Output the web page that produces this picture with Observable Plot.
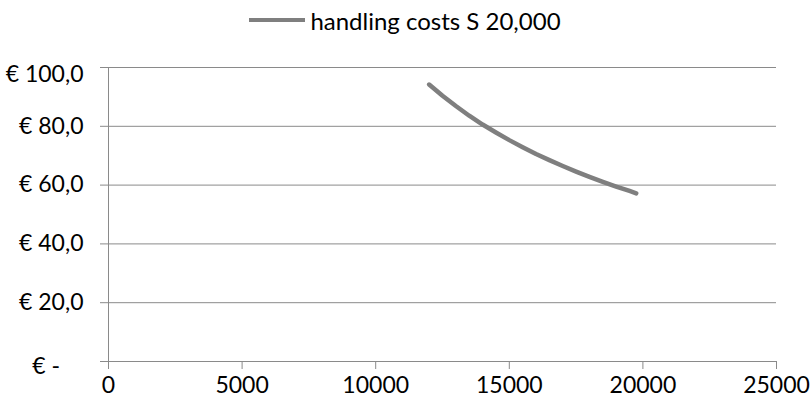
<!DOCTYPE html>
<html>
<head>
<meta charset="utf-8">
<script src="https://cdn.jsdelivr.net/npm/d3@7"></script>
<script src="https://cdn.jsdelivr.net/npm/@observablehq/plot@0.6"></script>
<style>
  html, body { margin: 0; padding: 0; background: #fff; }
  body { width: 810px; height: 407px; overflow: hidden; font-family: Lato, "Open Sans", sans-serif; }
  #legend { height: 40px; display: flex; align-items: center; justify-content: center; font-size: 24px; color: #000; }
  #legend .sw { width: 56px; height: 4px; background: #7f7f7f; margin-right: 5px; }
</style>
</head>
<body>
<div id="legend"><span class="sw"></span><span id="legtext"></span></div>
<div id="chart"></div>
<script>
const seriesName = "handling costs S 20,000";
const quantity = [12000, 12500, 13000, 13500, 14000, 14500, 15000, 15500, 16000, 16500, 17000, 17500, 18000, 18500, 19000, 19500, 19750];
const unitCost = [94.2, 90.4, 86.9, 83.6, 80.6, 77.9, 75.3, 72.9, 70.6, 68.5, 66.5, 64.6, 62.8, 61.1, 59.5, 58.0, 57.2];
const xTicks = [0, 5000, 10000, 15000, 20000, 25000];
const yTicks = [0, 20, 40, 60, 80, 100];
const yTickLabels = ["€ -\u00A0\u00A0\u00A0\u00A0", "€ 20,0", "€ 40,0", "€ 60,0", "€ 80,0", "€ 100,0"];

document.getElementById("legtext").textContent = seriesName;
const data = quantity.map((q, i) => ({q, c: unitCost[i]}));
const gray = "#8a8a8a";
const yLabel = d => yTickLabels[yTicks.indexOf(d)];
const midTicks = yTicks.filter(d => d > 0 && d < 100);
const labelOpts = {tickSize: 0, tickPadding: 25, fill: "#000", fontSize: 23, tickFormat: yLabel, label: null};

const chart = Plot.plot({
  width: 810,
  height: 367,
  marginTop: 27,
  marginBottom: 46,
  marginLeft: 108,
  marginRight: 34,
  style: {fontFamily: "Lato, 'Open Sans', sans-serif", fontSize: "23px", color: "#000", background: "#fff"},
  x: {domain: [0, 25000]},
  y: {domain: [0, 100]},
  marks: [
    Plot.gridY(yTicks, {stroke: gray, strokeOpacity: 1, strokeWidth: 1}),
    Plot.ruleX([0], {stroke: gray, strokeWidth: 1}),
    Plot.ruleY([0], {stroke: gray, strokeWidth: 1}),
    Plot.axisX(xTicks, {tickSize: 8, tickPadding: 7, stroke: gray, fill: "#000", fontSize: 23, tickFormat: d => String(d), label: null}),
    Plot.axisY(yTicks, {tickSize: 8, stroke: gray, tickFormat: () => "", label: null}),
    Plot.axisY(midTicks, labelOpts),
    Plot.axisY([100], {...labelOpts, dy: 7}),
    Plot.axisY([0], {...labelOpts, dy: 5}),
    Plot.line(data, {x: "q", y: "c", stroke: "#7f7f7f", strokeWidth: 4.5, strokeLinecap: "round", curve: "linear"})
  ]
});
document.getElementById("chart").appendChild(chart);
</script>
</body>
</html>
